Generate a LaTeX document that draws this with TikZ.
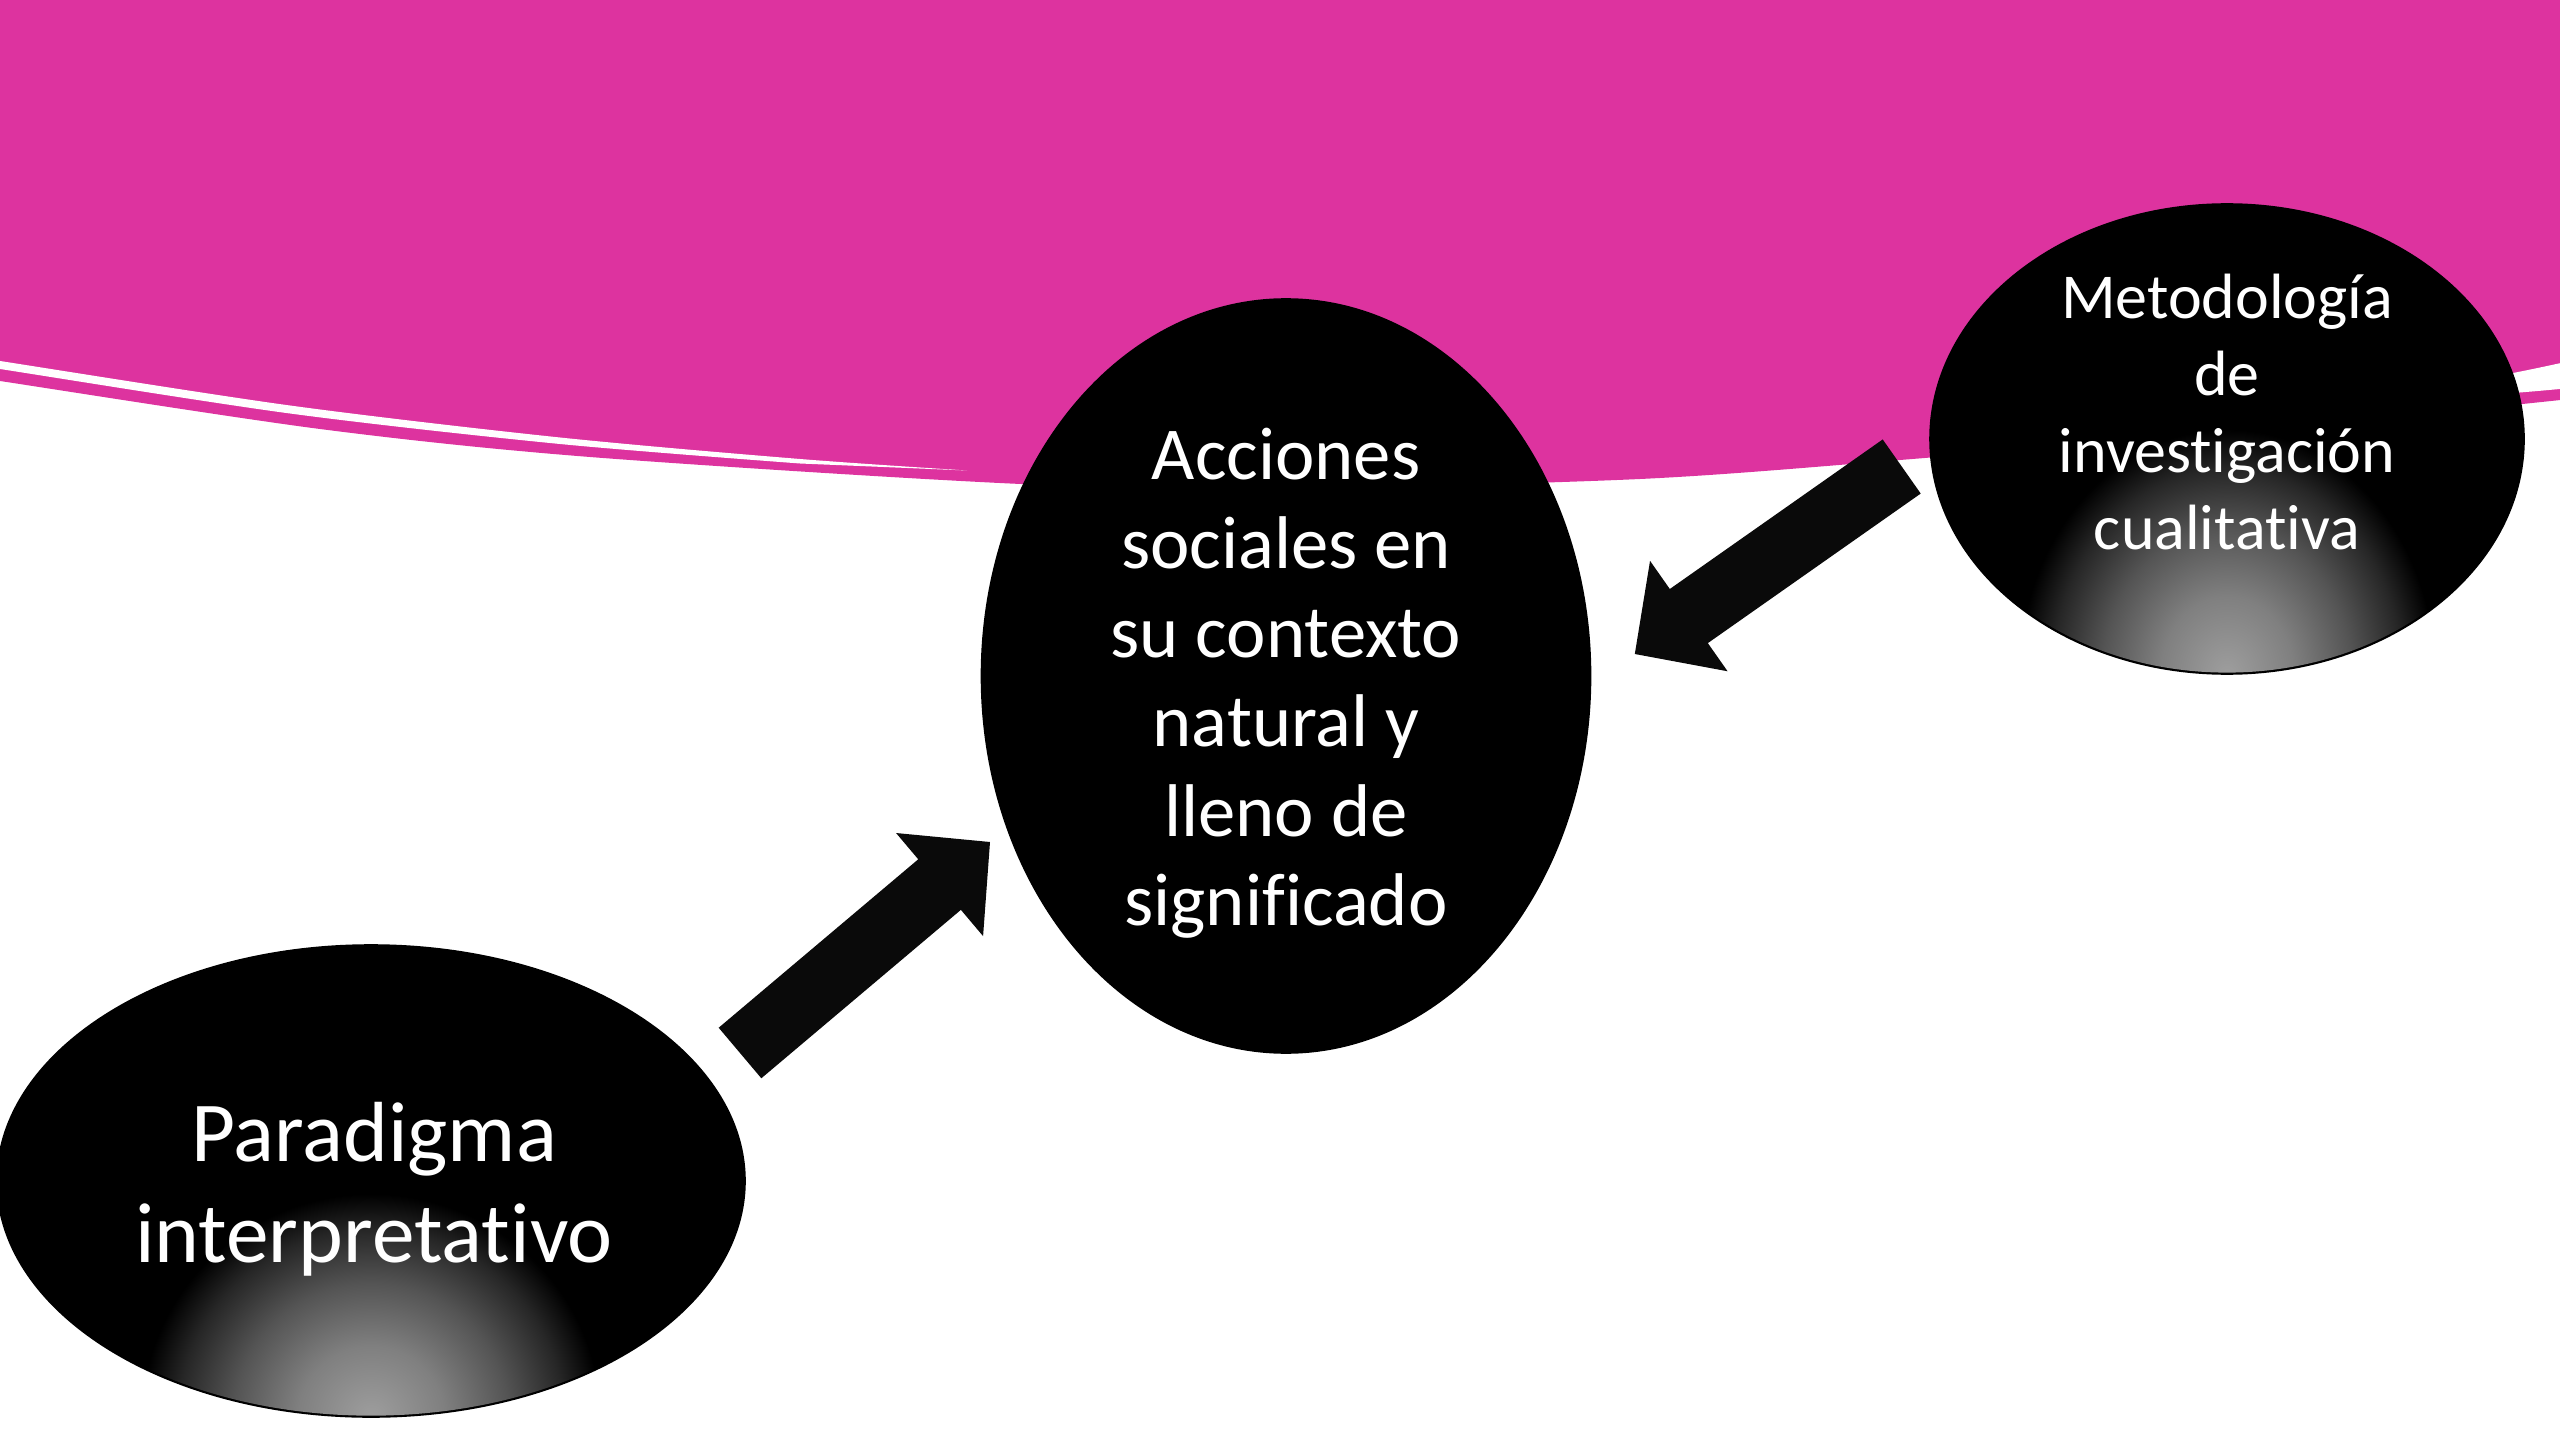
\documentclass[tikz,border=0pt]{standalone}
\usepackage{fontspec}
\setmainfont{Carlito}[Ligatures=NoCommon]
\usetikzlibrary{shapes.geometric,calc}
\definecolor{pinkc}{RGB}{221,51,159}
\definecolor{arrowc}{RGB}{10,10,10}
\definecolor{glowa}{gray}{0.62}
\definecolor{glowb}{gray}{0.50}
\definecolor{glowc}{gray}{0.33}
\definecolor{glowd}{gray}{0.15}
\pgfdeclareradialshading{glowshade}{\pgfpoint{0bp}{0bp}}{color(0bp)=(glowa); color(8bp)=(glowb); color(15bp)=(glowc); color(21bp)=(glowd); color(25bp)=(black); color(50bp)=(black)}
\tikzset{
  blob/.style={ellipse, fill=black, draw=black, line width=0.6pt, inner sep=0pt},
  txt/.style={text=white, align=center, inner sep=0pt},
  arrowfill/.style={fill=arrowc},
}
\newcommand{\blockarrow}[2]{%
  \coordinate (#2-base) at ($(#2)!24.75pt!(#1)$);
  \fill[arrowfill] ($(#1)!12.4pt!90:(#2)$) -- ($(#2-base)!12.4pt!90:(#2)$)
    -- ($(#2-base)!25.3pt!90:(#2)$) -- (#2) -- ($(#2-base)!25.3pt!-90:(#2)$)
    -- ($(#2-base)!12.4pt!-90:(#2)$) -- ($(#1)!12.4pt!-90:(#2)$) -- cycle;}
\begin{document}
\begin{tikzpicture}[x=0.375pt, y=-0.375pt]
\useasboundingbox (0,0) rectangle (2560,1440);
\clip (0,0) rectangle (2560,1440);
% pink band
\fill[pinkc] (-10,-10) -- (2570,-10) -- (2570,399)
  -- plot[smooth] coordinates {(2513,405) (2250,430) (1900,460) (1640,479) (1300,488) (1021,484) (590,457) (320,429) (0,381) (-10,379.5)} -- cycle;
% white thin stripes
\fill[white] plot[smooth] coordinates {(-10,359.5) (0,361) (290,405.5) (560,437.5) (800,459) (967,470.5)}
  -- plot[smooth] coordinates {(800,463.5) (560,444) (290,413.5) (0,369) (-10,367.5)} -- cycle;
\fill[white] plot[smooth] coordinates {(2380,398) (2513,373) (2570,361)}
  -- plot[smooth] coordinates {(2570,388) (2513,393) (2380,402)} -- cycle;
% ellipses
\node[blob, minimum width=228.4pt, minimum height=282.75pt] (acc) at (1286,676) {};
\node[blob, minimum width=222.75pt, minimum height=176.25pt] (met) at (2227,439) {};
\node[blob, minimum width=280.5pt, minimum height=177pt] (par) at (371,1181) {};
% glows
\begin{scope}
  \clip (met.center) ellipse [x radius=110.8pt, y radius=87.6pt];
  \shade[shading=glowshade] (met.south) ellipse [x radius=78pt, y radius=92pt];
\end{scope}
\begin{scope}
  \clip (par.center) ellipse [x radius=139.6pt, y radius=88pt];
  \shade[shading=glowshade] (par.south) ellipse [x radius=86pt, y radius=84pt];
\end{scope}
% texts
\node[txt, font=\fontsize{28pt}{33.45pt}\selectfont] (acct) at (1286,683)
  {Acciones\\sociales en\\su contexto\\natural y\\lleno de\\significado};
\node[txt, font=\fontsize{24pt}{28.9pt}\selectfont] (mett) at (2227,412)
  {Metodología\\de\\investigación\\cualitativa};
\node[txt, font=\fontsize{32pt}{37.9pt}\selectfont] (part) at (374,1189)
  {Paradigma\\interpretativo};
% arrows
\coordinate (a1s) at (740,1053);
\coordinate (a1e) at (990,842);
\coordinate (a2s) at (1901.7,466.5);
\coordinate (a2e) at (1634.8,654);
\blockarrow{a1s}{a1e}
\blockarrow{a2s}{a2e}
\end{tikzpicture}
\end{document}
